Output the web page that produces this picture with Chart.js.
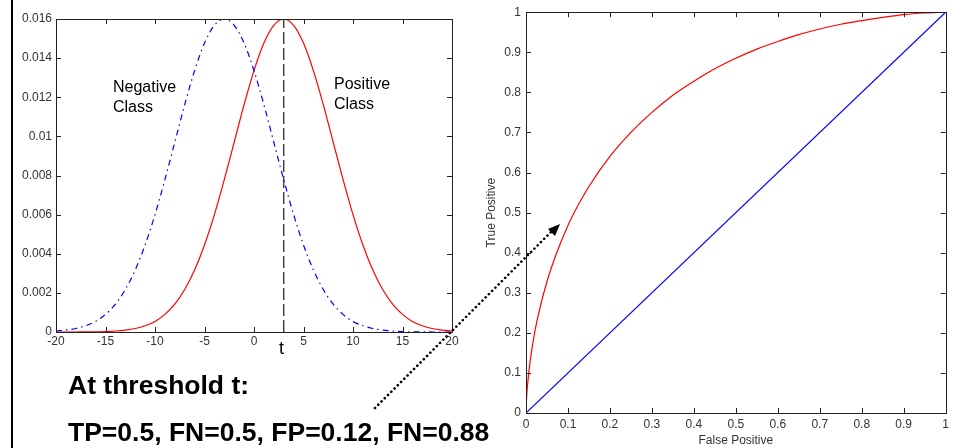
<!DOCTYPE html>
<html>
<head>
<meta charset="utf-8">
<script src="https://cdn.jsdelivr.net/npm/chart.js@4.4.1/dist/chart.umd.min.js"></script>
<style>
  body { margin: 0; background: #fff; font-family: "Liberation Sans", Arial, sans-serif; }
  #page { position: relative; width: 953px; height: 448px; overflow: hidden; background: #fff; }
  #frame { position: absolute; left: 11px; top: 0; width: 2px; height: 448px; background: #000; }
  #left { position: absolute; left: 0; top: 0; }
  #right { position: absolute; left: 460px; top: 0; }
  .note { position: absolute; color: #000; white-space: nowrap; }
  .cls { font-size: 16px; line-height: 20px; }
  .big { font-size: 26.5px; font-weight: bold; }
  #arrow { position: absolute; left: 0; top: 0; pointer-events: none; }
</style>
</head>
<body>
<div id="page">
  <div id="frame"></div>
  <canvas id="left" width="470" height="360"></canvas>
  <canvas id="right" width="493" height="448"></canvas>
  <div class="note cls" style="left:113px; top:77px;">Negative<br>Class</div>
  <div class="note cls" style="left:334px; top:74px;">Positive<br>Class</div>
  <div class="note" style="left:279px; top:338px; font-size:18px;">t</div>
  <div class="note big" style="left:68px; top:370px;">At threshold t:</div>
  <div class="note big" style="left:68px; top:417px;">TP=0.5, FN=0.5, FP=0.12, FN=0.88</div>
  <svg id="arrow" width="953" height="448">
    <line x1="375" y1="408" x2="552" y2="231" stroke="#000" stroke-width="2.6" stroke-dasharray="0.1 4.5" stroke-linecap="round"/>
    <polygon points="560,224 548,229 555,236" fill="#000"/>
  </svg>
</div>
<script>
// class score densities
const scores = [-20, -19, -18, -17, -16, -15, -14, -13, -12, -11, -10, -9, -8, -7, -6, -5, -4, -3, -2, -1, 0,
  1, 2, 3, 4, 5, 6, 7, 8, 9, 10, 11, 12, 13, 14, 15, 16, 17, 18, 19, 20]
const negativeClass = [0.00005, 0.0001, 0.00018, 0.00032, 0.00054, 0.0009, 0.00142, 0.00217, 0.00317, 0.00445,
  0.006, 0.00779, 0.0097, 0.01162, 0.01336, 0.01477, 0.01568, 0.016, 0.01568, 0.01477, 0.01336,
  0.01162, 0.0097, 0.00779, 0.006, 0.00445, 0.00317, 0.00217, 0.00142, 0.0009, 0.00054,
  0.00032, 0.00018, 0.0001, 0.00005, 0.00002, 0.00001, 0.00001, 0, 0, 0]
const positiveClass = [0, 0, 0, 0.00001, 0.00001, 0.00002, 0.00005, 0.0001, 0.00018, 0.00032,
  0.00054, 0.0009, 0.00142, 0.00217, 0.00317, 0.00445, 0.006, 0.00779, 0.0097, 0.01162, 0.01336,
  0.01477, 0.01568, 0.016, 0.01568, 0.01477, 0.01336, 0.01162, 0.0097, 0.00779, 0.006,
  0.00445, 0.00317, 0.00217, 0.00142, 0.0009, 0.00054, 0.00032, 0.00018, 0.0001, 0.00005]
const threshold = 3
const densityMax = 0.016

// ROC curve
const fpr = [0, 0.001, 0.005, 0.01, 0.02, 0.03, 0.05, 0.07, 0.1, 0.12, 0.15, 0.2, 0.25, 0.3, 0.35, 0.4,
  0.45, 0.5, 0.55, 0.6, 0.65, 0.7, 0.75, 0.8, 0.85, 0.9, 0.95, 1]
const tpr = [0, 0.03, 0.084, 0.13, 0.197, 0.248, 0.328, 0.391, 0.468, 0.51, 0.565, 0.64, 0.7, 0.75, 0.793, 0.828,
  0.859, 0.885, 0.908, 0.927, 0.944, 0.958, 0.97, 0.979, 0.987, 0.994, 0.998, 1]
const chanceFpr = [0, 1]
const chanceTpr = [0, 1]

const FONT = '"Liberation Sans", Arial, sans-serif'
const tickFont = { family: FONT, size: 12 }
const tickColor = '#333'

// matlab style box with inward ticks
const boxTicks = {
  id: 'boxTicks',
  afterDraw(chart) {
    const { ctx, chartArea: a, scales } = chart
    const len = 5
    ctx.save()
    ctx.strokeStyle = '#222'
    ctx.lineWidth = 1
    ctx.beginPath()
    scales.x.ticks.forEach((t) => {
      const px = Math.round(scales.x.getPixelForValue(t.value)) + 0.5
      ctx.moveTo(px, a.bottom); ctx.lineTo(px, a.bottom - len)
      ctx.moveTo(px, a.top); ctx.lineTo(px, a.top + len)
    })
    scales.y.ticks.forEach((t) => {
      const py = Math.round(scales.y.getPixelForValue(t.value)) + 0.5
      ctx.moveTo(a.left, py); ctx.lineTo(a.left + len, py)
      ctx.moveTo(a.right, py); ctx.lineTo(a.right - len, py)
    })
    ctx.stroke()
    ctx.strokeRect(Math.round(a.left) + 0.5, Math.round(a.top) + 0.5,
      Math.round(a.right - a.left), Math.round(a.bottom - a.top))
    ctx.restore()
  },
}

function fmt(digits) {
  return (v) => Number(Number(v).toFixed(digits)).toString()
}

window.onload = function () {
  // ### left: class distributions
  new Chart(document.getElementById('left'), {
    type: 'line',
    data: {
      datasets: [
        {
          label: 'Negative',
          data: scores.map((x, i) => ({ x: x, y: negativeClass[i] })),
          borderColor: '#0000ff',
          borderWidth: 1.2,
          borderDash: [6, 4, 1.5, 4],
          pointRadius: 0,
          cubicInterpolationMode: 'monotone',
        },
        {
          label: 'Positive',
          data: scores.map((x, i) => ({ x: x, y: positiveClass[i] })),
          borderColor: '#ff0000',
          borderWidth: 1.2,
          pointRadius: 0,
          cubicInterpolationMode: 'monotone',
        },
        {
          label: 't',
          data: [{ x: threshold, y: 0 }, { x: threshold, y: densityMax }],
          borderColor: '#444',
          borderWidth: 1.5,
          borderDash: [12, 4],
          pointRadius: 0,
        },
      ],
    },
    options: {
      responsive: false,
      animation: false,
      layout: { padding: { left: 0, top: 19, right: 18, bottom: 0 } },
      plugins: { legend: { display: false }, tooltip: { enabled: false } },
      scales: {
        x: {
          type: 'linear', min: -20, max: 20,
          ticks: { stepSize: 5, font: tickFont, color: tickColor, padding: 2, maxRotation: 0 },
          grid: { drawOnChartArea: false, drawTicks: false },
          border: { display: false },
          afterFit: (s) => { s.height = 28 },
        },
        y: {
          type: 'linear', min: 0, max: densityMax,
          ticks: { stepSize: 0.002, font: tickFont, color: tickColor, padding: 4, callback: fmt(3) },
          grid: { drawOnChartArea: false, drawTicks: false },
          border: { display: false },
          afterFit: (s) => { s.width = 56 },
        },
      },
    },
    plugins: [boxTicks],
  })

  // ### right: ROC
  new Chart(document.getElementById('right'), {
    type: 'line',
    data: {
      datasets: [
        {
          label: 'ROC',
          data: fpr.map((x, i) => ({ x: x, y: tpr[i] })),
          borderColor: '#ff0000',
          borderWidth: 1.2,
          pointRadius: 0,
          cubicInterpolationMode: 'monotone',
        },
        {
          label: 'chance',
          data: chanceFpr.map((x, i) => ({ x: x, y: chanceTpr[i] })),
          borderColor: '#0000ff',
          borderWidth: 1.2,
          pointRadius: 0,
        },
      ],
    },
    options: {
      responsive: false,
      animation: false,
      layout: { padding: { left: 0, top: 12, right: 4, bottom: 0 } },
      plugins: { legend: { display: false }, tooltip: { enabled: false } },
      scales: {
        x: {
          type: 'linear', min: 0, max: 1,
          ticks: { stepSize: 0.1, font: tickFont, color: tickColor, padding: 4, maxRotation: 0, callback: fmt(1) },
          grid: { drawOnChartArea: false, drawTicks: false },
          border: { display: false },
          title: { display: true, text: 'False Positive', font: tickFont, color: tickColor, padding: { top: 0, bottom: 0 } },
          afterFit: (s) => { s.height = 35 },
        },
        y: {
          type: 'linear', min: 0, max: 1,
          ticks: { stepSize: 0.1, font: tickFont, color: tickColor, padding: 5, callback: fmt(1) },
          grid: { drawOnChartArea: false, drawTicks: false },
          border: { display: false },
          title: { display: true, text: 'True Positive', font: tickFont, color: tickColor, padding: { top: 24, bottom: 0 } },
          afterFit: (s) => { s.width = 66 },
        },
      },
    },
    plugins: [boxTicks],
  })
}
</script>
</body>
</html>
